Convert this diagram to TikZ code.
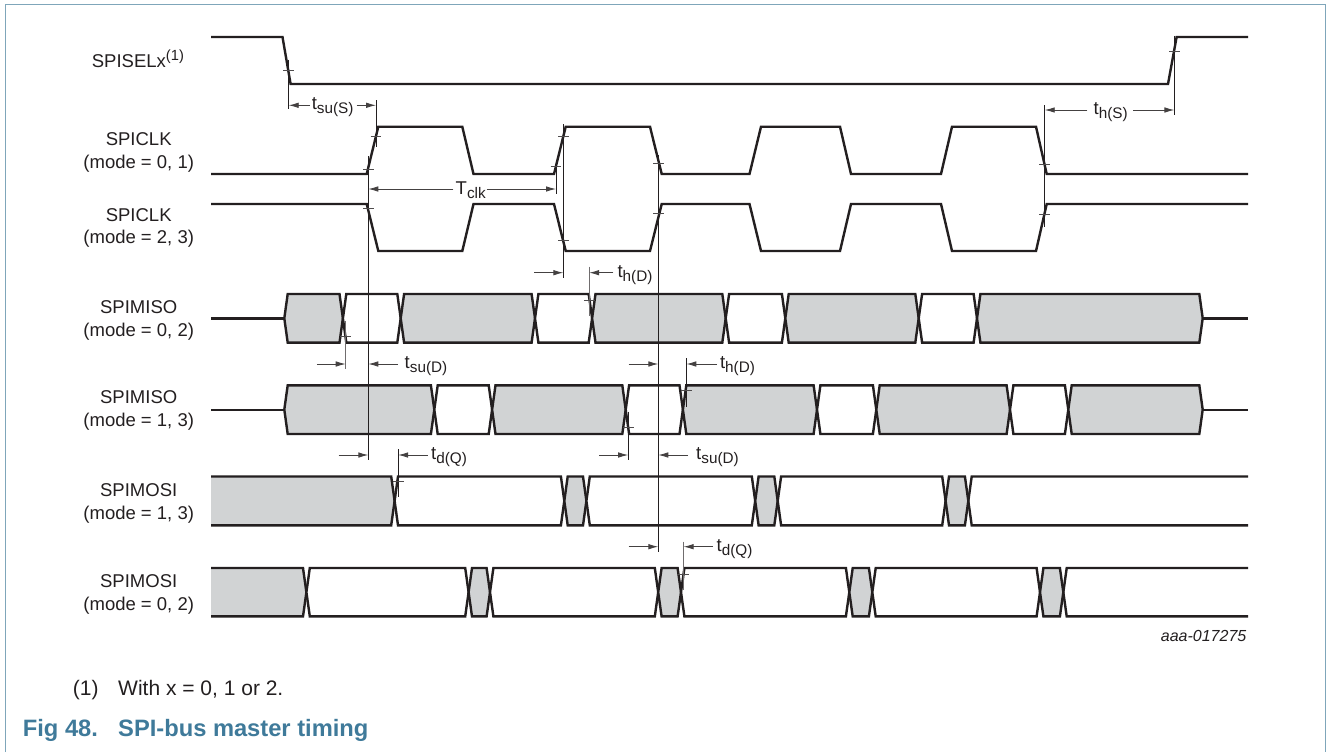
\documentclass[tikz,border=0pt]{standalone}
\usepackage{fontspec}
\setmainfont{Liberation Sans}
\usetikzlibrary{arrows.meta}
\definecolor{graybus}{HTML}{D1D3D4}
\definecolor{ink}{HTML}{231F20}
\definecolor{framec}{HTML}{7FA6BA}
\definecolor{titlec}{HTML}{3F7A9A}
\tikzset{
  x=1pt,y=-1pt,
  wave/.style={draw=ink,line width=2.4pt,line join=miter,miter limit=10},
  thin cursor/.style={draw=ink,line width=1pt},
  pale cursor/.style={draw=ink!65,line width=1.1pt},
  tickmark/.style={draw=ink!80,line width=0.9pt},
  dim/.style={draw=ink!85,line width=0.9pt,-{Latex[length=10pt,width=5.6pt]}},
  siglabel/.style={font=\fontsize{18.5pt}{22.6pt}\selectfont,text=ink,align=center,anchor=center,inner sep=0pt},
  timelabel/.style={font=\fontsize{18.5pt}{20pt}\selectfont,text=ink,anchor=center,inner sep=0pt},
}
% hexagonal bus segment: left apex, right apex, top, bottom, fill
\newcommand{\busseg}[5]{\draw[wave,fill=#5] ({#1},{0.5*(#3+#4)}) -- ({#1+3.4},#3) -- ({#2-3.4},#3) -- ({#2},{0.5*(#3+#4)}) -- ({#2-3.4},#4) -- ({#1+3.4},#4) -- cycle;}
\newcommand{\tickh}[2]{\draw[tickmark] ({#1-5.3},#2) -- ({#1+5.3},#2);}
\newcommand{\tsub}[2]{#1\raisebox{-4pt}{\fontsize{15.3pt}{16pt}\selectfont #2}}
\begin{document}
\begin{tikzpicture}
\useasboundingbox (0,0) rectangle (1327,752);
\fill[white] (0,0) rectangle (1327,752);
\draw[framec,line width=1.3pt] (5.2,752) -- (5.2,4.2) -- (1325.6,4.2) -- (1325.6,752);

% SPISELx and clocks
\draw[wave] (211,37) -- (282.5,37) -- (290.6,84) -- (1168,84) -- (1176.6,37) -- (1248,37);
\draw[wave] (211,174) -- (366.7,174) -- (378.3,126.7) -- (462.3,126.7) -- (473.5,174) -- (554,174) -- (565.7,126.7) -- (650,126.7) -- (661.7,174) -- (749.5,174) -- (761,126.7) -- (840,126.7) -- (851,174) -- (941,174) -- (952,126.7) -- (1036,126.7) -- (1046.7,174) -- (1248,174);
\draw[wave] (211,204) -- (366.7,204) -- (378.3,251) -- (462.3,251) -- (473.5,204) -- (554,204) -- (565.7,251) -- (650,251) -- (661.7,204) -- (749.5,204) -- (761,251) -- (840,251) -- (851,204) -- (941,204) -- (952,251) -- (1036,251) -- (1046.7,204) -- (1248,204);

% SPIMISO mode 0,2
\draw[wave] (211,318.4) -- (284.3,318.4);
\draw[wave] (1202.7,318.4) -- (1248,318.4);
\busseg{284.3}{342.9}{294}{342.6}{graybus}
\busseg{342.9}{400.7}{294}{342.6}{white}
\busseg{400.7}{535}{294}{342.6}{graybus}
\busseg{535}{592.1}{294}{342.6}{white}
\busseg{592.1}{725.7}{294}{342.6}{graybus}
\busseg{725.7}{785.3}{294}{342.6}{white}
\busseg{785.3}{918.7}{294}{342.6}{graybus}
\busseg{918.7}{977}{294}{342.6}{white}
\busseg{977}{1202.7}{294}{342.6}{graybus}

% SPIMISO mode 1,3
\draw[wave] (211,409.7) -- (284.3,409.7);
\draw[wave] (1202.7,409.7) -- (1248,409.7);
\busseg{284.3}{434.3}{385.3}{434}{graybus}
\busseg{434.3}{492.1}{385.3}{434}{white}
\busseg{492.1}{625.7}{385.3}{434}{graybus}
\busseg{625.7}{682.9}{385.3}{434}{white}
\busseg{682.9}{817}{385.3}{434}{graybus}
\busseg{817}{876.3}{385.3}{434}{white}
\busseg{876.3}{1010}{385.3}{434}{graybus}
\busseg{1010}{1068.3}{385.3}{434}{white}
\busseg{1068.3}{1202.7}{385.3}{434}{graybus}

% SPIMOSI mode 1,3
\fill[graybus] (211,476.5) -- (391.2,476.5) -- (394.6,500.9) -- (391.2,525.3) -- (211,525.3) -- cycle;
\draw[wave] (211,476.5) -- (391.2,476.5) -- (394.6,500.9) -- (391.2,525.3) -- (211,525.3);
\busseg{394.6}{564.3}{476.5}{525.3}{white}
\busseg{564.3}{586.4}{476.5}{525.3}{graybus}
\busseg{586.4}{755.2}{476.5}{525.3}{white}
\busseg{755.2}{777.7}{476.5}{525.3}{graybus}
\busseg{777.7}{945.6}{476.5}{525.3}{white}
\busseg{945.6}{968.3}{476.5}{525.3}{graybus}
\draw[wave] (1248,476.5) -- (971.7,476.5) -- (968.3,500.9) -- (971.7,525.3) -- (1248,525.3);

% SPIMOSI mode 0,2
\fill[graybus] (211,568) -- (303,568) -- (306.4,592.2) -- (303,616.4) -- (211,616.4) -- cycle;
\draw[wave] (211,568) -- (303,568) -- (306.4,592.2) -- (303,616.4) -- (211,616.4);
\busseg{306.4}{468.6}{568}{616.4}{white}
\busseg{468.6}{490}{568}{616.4}{graybus}
\busseg{490}{658.2}{568}{616.4}{white}
\busseg{658.2}{681}{568}{616.4}{graybus}
\busseg{681}{849.3}{568}{616.4}{white}
\busseg{849.3}{872.3}{568}{616.4}{graybus}
\busseg{872.3}{1040}{568}{616.4}{white}
\busseg{1040}{1063.3}{568}{616.4}{graybus}
\draw[wave] (1248,568) -- (1066.7,568) -- (1063.3,592.2) -- (1066.7,616.4) -- (1248,616.4);

% vertical cursors
\draw[thin cursor] (288.7,60) -- (288.7,109.3);
\draw[thin cursor] (376,100) -- (376,147);
\draw[thin cursor] (368.3,156) -- (368.3,460);
\draw[thin cursor] (556,160) -- (556,194);
\draw[thin cursor] (563.3,124) -- (563.3,278.3);
\draw[pale cursor] (589.2,266.7) -- (589.2,316);
\draw[thin cursor] (658.3,155) -- (658.3,551.7);
\draw[pale cursor] (345.7,320.7) -- (345.7,369.3);
\draw[thin cursor] (686.4,358.3) -- (686.4,406.7);
\draw[thin cursor] (398.2,449.3) -- (398.2,497.3);
\draw[thin cursor] (628.2,411.7) -- (628.2,460);
\draw[pale cursor] (683.6,541.7) -- (683.6,590);
\draw[thin cursor] (1044.7,105) -- (1044.7,226.7);
\draw[thin cursor] (1174.3,36) -- (1174.3,115);

% ticks
\tickh{288.7}{70} \tickh{376}{136.7} \tickh{368.3}{169.3} \tickh{368.3}{208.3}
\tickh{556}{166.7} \tickh{563.3}{136.7} \tickh{563.3}{240}
\tickh{658.3}{163.3} \tickh{658.3}{213.3} \tickh{589.2}{300} \tickh{345.7}{336}
\tickh{686.4}{390.7} \tickh{628.2}{427.7} \tickh{398.2}{481} \tickh{683.6}{574}
\tickh{1044.7}{164} \tickh{1044.7}{214} \tickh{1174.3}{51}

% timing labels
\node[timelabel] (tsus) at (332.7,107.5) {\tsub{t}{su(S)}};
\node[timelabel] (tclk) at (470.7,190) {\tsub{T}{clk}};
\node[timelabel] (thd1) at (635,275.5) {\tsub{t}{h(D)}};
\node[timelabel] (tsud1) at (426,366) {\tsub{t}{su(D)}};
\node[timelabel] (thd2) at (737.5,366) {\tsub{t}{h(D)}};
\node[timelabel] (tdq1) at (449,457.5) {\tsub{t}{d(Q)}};
\node[timelabel] (tsud2) at (717.5,457.5) {\tsub{t}{su(D)}};
\node[timelabel] (tdq2) at (734.6,549) {\tsub{t}{d(Q)}};
\node[timelabel] (ths) at (1110.7,112) {\tsub{t}{h(S)}};

% dimension arrows
\draw[dim] (310,105.3) -- (288.7,105.3);
\draw[dim] (356.7,105.3) -- (376,105.3);
\draw[dim] (453.3,189) -- (368.3,189);
\draw[dim] (486.7,189) -- (556,189);
\draw[dim] (534,272.7) -- (563.3,272.7);
\draw[dim] (613.3,272.7) -- (589.2,272.7);
\draw[dim] (316.8,364) -- (345.7,364);
\draw[dim] (398.2,364) -- (368.3,364);
\draw[dim] (628.6,364) -- (658.3,364);
\draw[dim] (717,364) -- (686.4,364);
\draw[dim] (338.6,455) -- (368.3,455);
\draw[dim] (427.9,455) -- (398.2,455);
\draw[dim] (599,455) -- (628.2,455);
\draw[dim] (688,455) -- (658.3,455);
\draw[dim] (628.6,546.7) -- (658.3,546.7);
\draw[dim] (713,546.7) -- (683.6,546.7);
\draw[dim] (1087.3,110) -- (1044.7,110);
\draw[dim] (1133.3,110) -- (1174.3,110);

% signal labels
\node[siglabel,anchor=base west] (sel) at (91.7,67.7) {SPISELx\raisebox{7pt}{\fontsize{14.7pt}{15pt}\selectfont (1)}};
\node[siglabel] (clk1) at (138.7,152.5) {SPICLK\\(mode = 0, 1)};
\node[siglabel] (clk2) at (138.7,228) {SPICLK\\(mode = 2, 3)};
\node[siglabel] (miso1) at (138.7,320.5) {SPIMISO\\(mode = 0, 2)};
\node[siglabel] (miso2) at (138.7,410.5) {SPIMISO\\(mode = 1, 3)};
\node[siglabel] (mosi1) at (138.7,503.5) {SPIMOSI\\(mode = 1, 3)};
\node[siglabel] (mosi2) at (138.7,594.5) {SPIMOSI\\(mode = 0, 2)};

\node[anchor=base east,inner sep=0pt,font=\fontsize{16pt}{18pt}\selectfont\itshape,text=ink] (ref) at (1246.5,641.5) {aaa-017275};
\node[anchor=base west,inner sep=0pt,font=\fontsize{21pt}{24pt}\selectfont,text=ink] (fn1) at (72.7,695) {(1)};
\node[anchor=base west,inner sep=0pt,font=\fontsize{21pt}{24pt}\selectfont,text=ink] (fn2) at (118,695) {With x = 0, 1 or 2.};
\node[anchor=base west,inner sep=0pt,font=\fontsize{23.7pt}{26pt}\selectfont\bfseries,text=titlec] (fig) at (22.7,736) {Fig 48.};
\node[anchor=base west,inner sep=0pt,font=\fontsize{23.7pt}{26pt}\selectfont\bfseries,text=titlec] (figt) at (118,736) {SPI-bus master timing};
\end{tikzpicture}
\end{document}
